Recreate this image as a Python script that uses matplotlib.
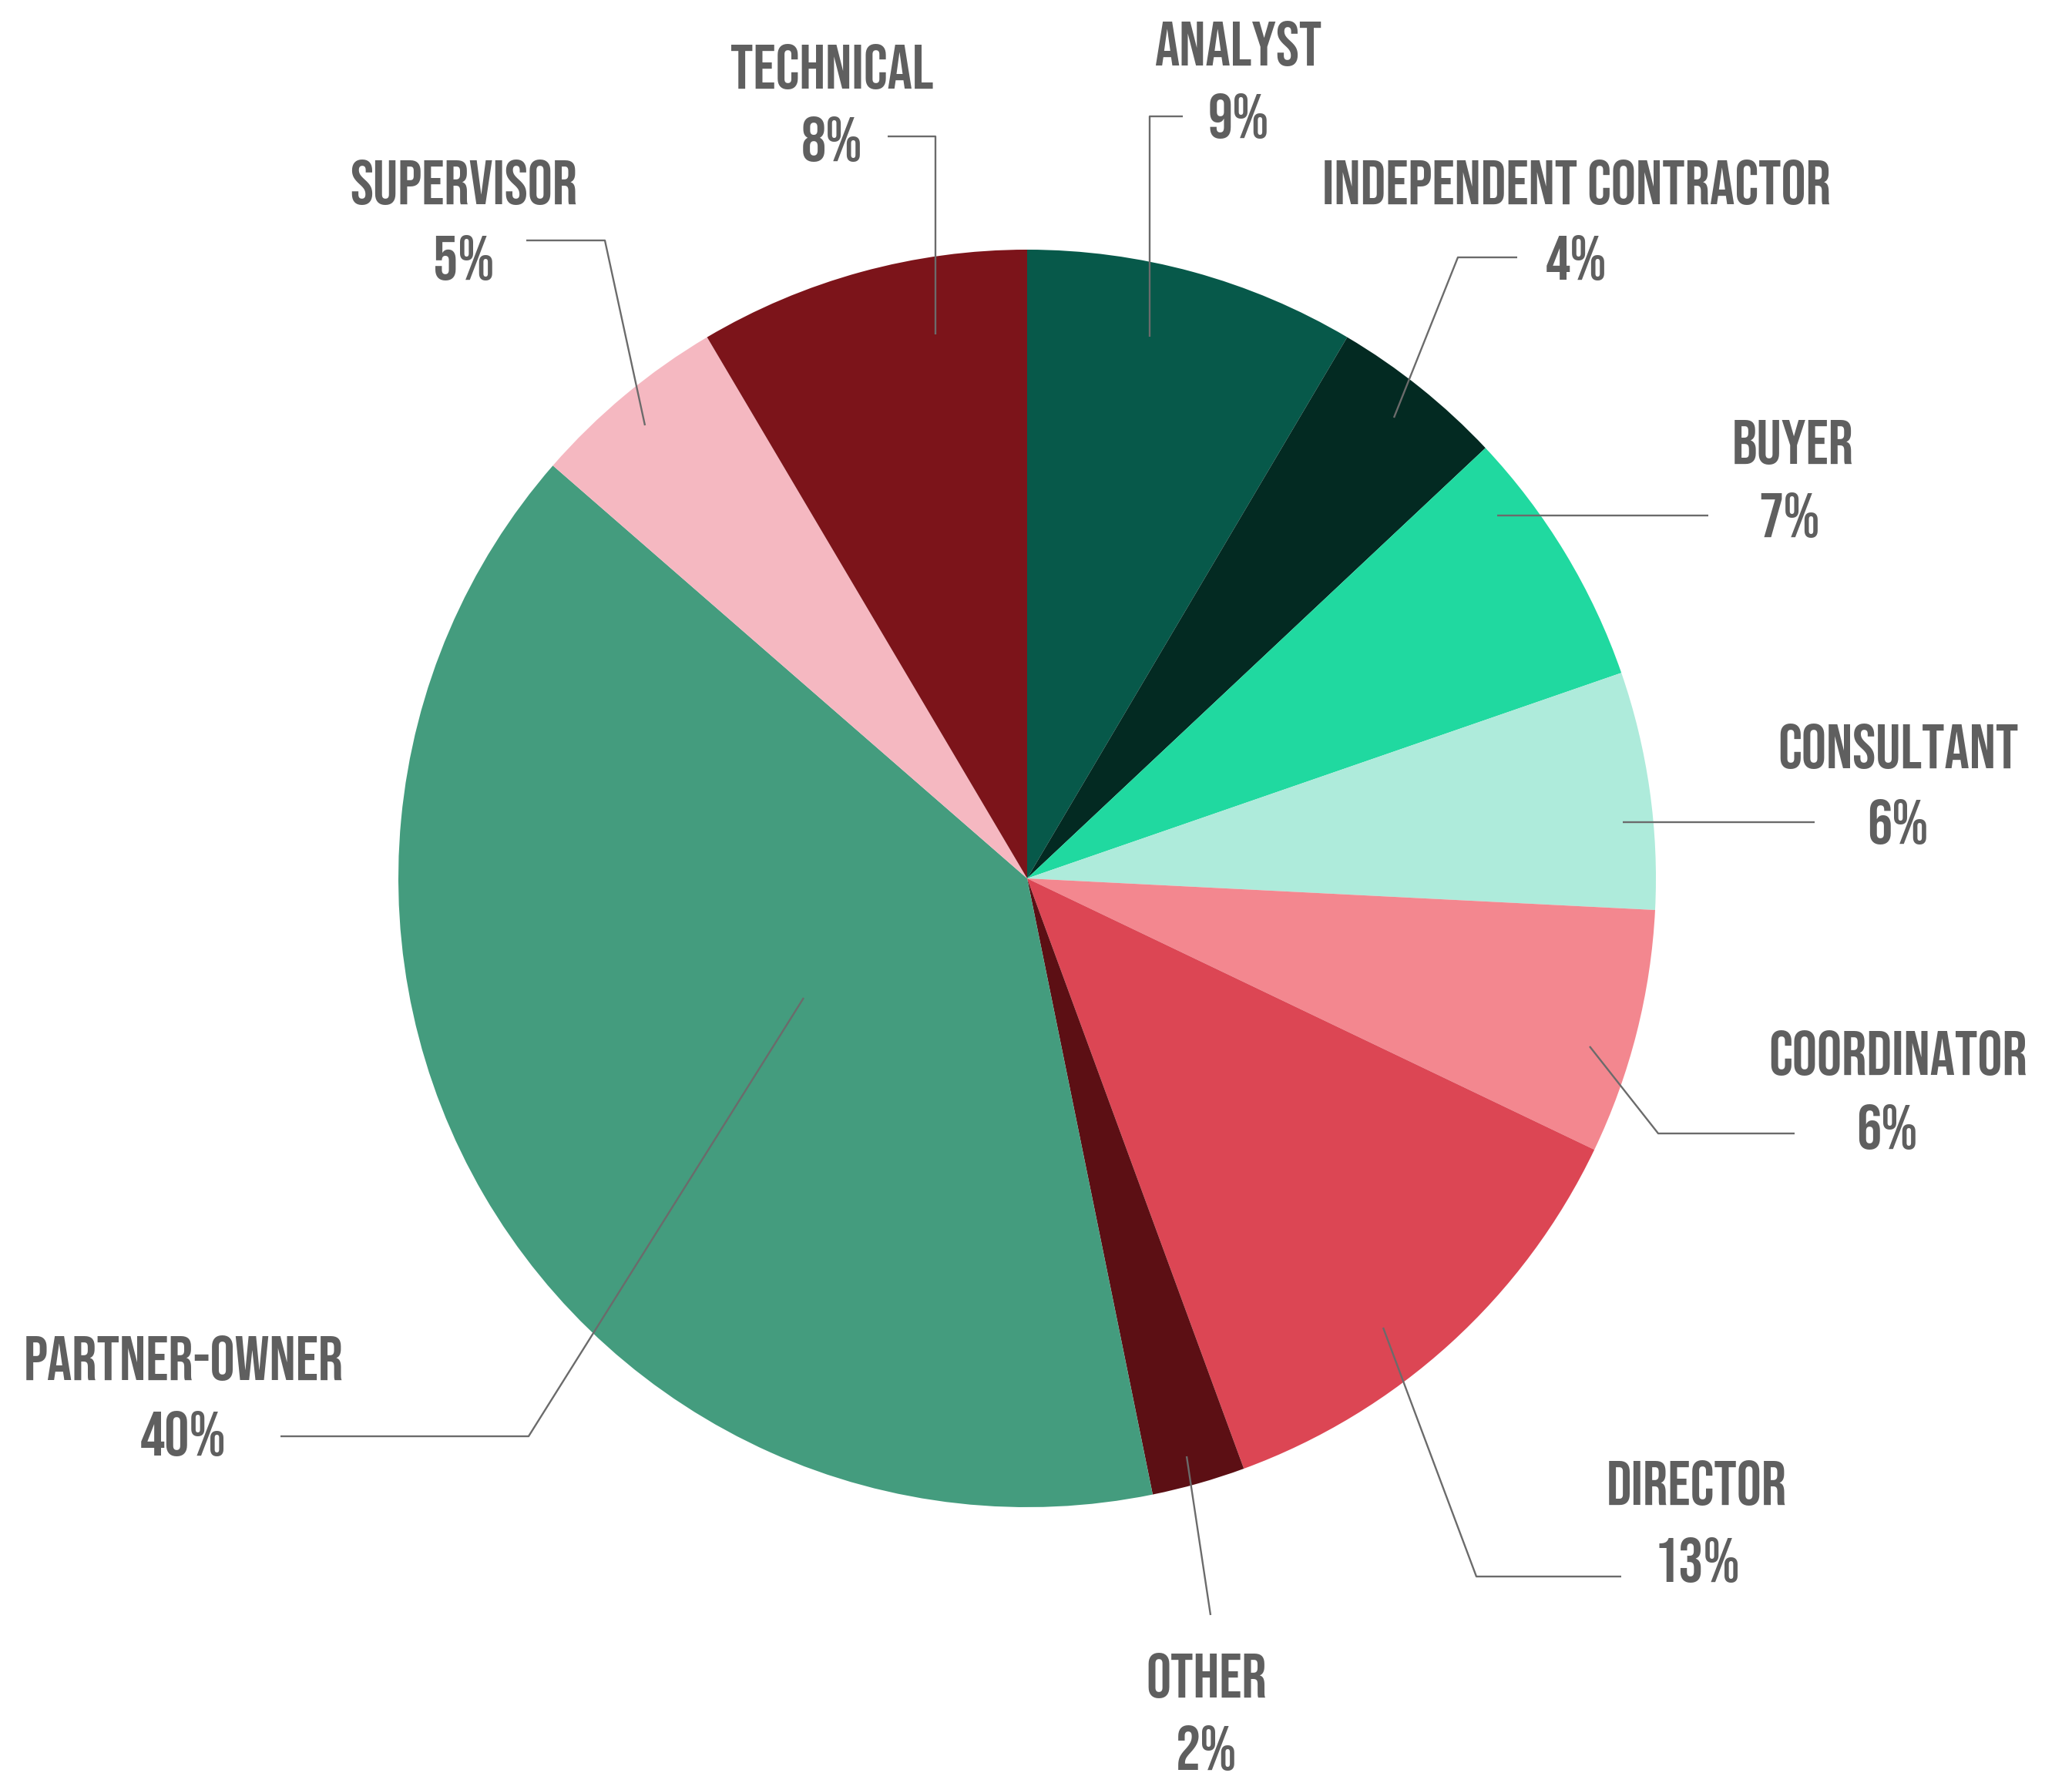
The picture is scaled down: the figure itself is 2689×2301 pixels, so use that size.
import matplotlib
matplotlib.use("Agg")
import matplotlib.pyplot as plt
from matplotlib import font_manager

# slices, clockwise from 12 o'clock
roles = ["ANALYST", "INDEPENDENT CONTRACTOR", "BUYER", "CONSULTANT", "COORDINATOR",
         "DIRECTOR", "OTHER", "PARTNER-OWNER", "SUPERVISOR", "TECHNICAL"]
shares = [8.5, 4.5, 6.7, 6.1, 6.3, 12.3, 2.4, 39.6, 5.1, 8.5]
pct_labels = ["9%", "4%", "7%", "6%", "6%", "13%", "2%", "40%", "5%", "8%"]
colors = ["#07594a", "#032a22", "#20d9a0", "#aeebdb", "#f3878f",
          "#dc4654", "#5c0f14", "#449c7e", "#f5b8c1", "#7c141a"]

W, H = 2689, 2301
CENTER = (1333, H - 1140)
RADIUS = 816

# label layout in image pixels (y down): name position, pct position, leader path
label_pos = {
    "ANALYST": ((1607, 57), (1607, 151), [(1492, 437), (1492, 151), (1535, 151)]),
    "INDEPENDENT CONTRACTOR": ((2046, 237), (2046, 334), [(1809, 542), (1892, 334), (1969, 334)]),
    "BUYER": ((2327, 574), (2322, 669), [(1943, 669), (2217, 669)]),
    "CONSULTANT": ((2463, 969), (2463, 1067), [(2106, 1067), (2355, 1067)]),
    "COORDINATOR": ((2463, 1367), (2449, 1463), [(2063, 1358), (2152, 1471), (2329, 1471)]),
    "DIRECTOR": ((2202, 1924), (2202, 2024), [(1795, 1723), (1916, 2046), (2104, 2046)]),
    "OTHER": ((1566, 2175), (1566, 2269), [(1540, 1890), (1571, 2096)]),
    "PARTNER-OWNER": ((238, 1763), (238, 1861), [(1043, 1295), (686, 1864), (364, 1864)]),
    "SUPERVISOR": ((602, 237), (602, 334), [(837, 552), (785, 312), (683, 312)]),
    "TECHNICAL": ((1080, 86), (1080, 180), [(1214, 434), (1214, 177), (1152, 177)]),
}


def pick_narrow_font():
    # look for a condensed face among what is installed
    wanted = ["Bebas Neue", "Oswald", "Roboto Condensed", "Open Sans Condensed",
              "Liberation Sans Narrow", "DejaVu Sans Condensed", "Noto Sans Condensed"]
    names = {f.name for f in font_manager.fontManager.ttflist}
    for n in wanted:
        if n in names:
            return n, {}
    for f in font_manager.fontManager.ttflist:
        if f.stretch in ("condensed", "semi-condensed", "extra-condensed") and \
                f.name in ("DejaVu Sans", "Noto Sans", "Roboto", "Open Sans"):
            return f.name, {"fontstretch": f.stretch}
    return None, {}


narrow, extra = pick_narrow_font()
if narrow:
    FONT = [narrow, "DejaVu Sans"]
    FSIZE = 58
else:
    FONT = ["DejaVu Sans"]
    FSIZE = 34
TXT = "#5f5f5f"

fig = plt.figure(figsize=(W / 100, H / 100), dpi=100)
ax = fig.add_axes([0, 0, 1, 1])
ax.pie(shares, colors=colors, startangle=90, counterclock=False,
       center=CENTER, radius=RADIUS, wedgeprops=dict(linewidth=0))

for role, pct in zip(roles, pct_labels):
    name_xy, pct_xy, path = label_pos[role]
    xs = [p[0] for p in path]
    ys = [H - p[1] for p in path]
    ax.plot(xs, ys, color="#6b6b6b", lw=1.7, solid_capstyle="butt")
    ax.text(name_xy[0], H - name_xy[1], role, ha="center", va="center",
            family=FONT, fontweight="bold", fontsize=FSIZE, color=TXT, **extra)
    ax.text(pct_xy[0], H - pct_xy[1], pct, ha="center", va="center",
            family=FONT, fontweight="bold", fontsize=FSIZE, color=TXT, **extra)

ax.set_xlim(0, W)
ax.set_ylim(0, H)
ax.set_aspect("equal")
ax.axis("off")
fig.savefig("out.png", dpi=100, facecolor="white")
